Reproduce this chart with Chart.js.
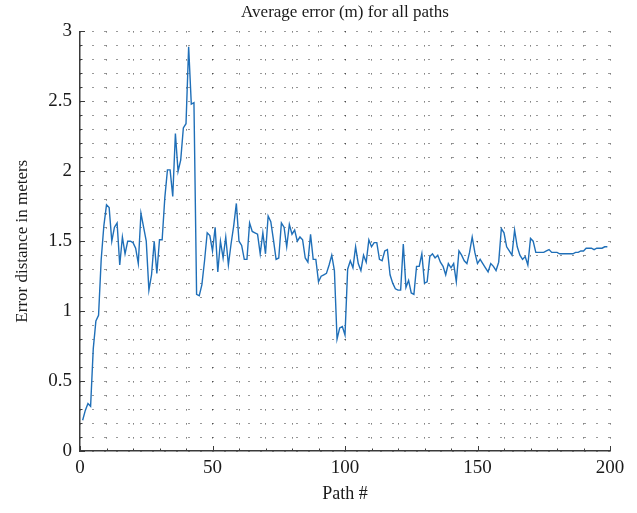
<!DOCTYPE html>
<html lang="en">
<head>
<meta charset="UTF-8">
<title>Average error (m) for all paths</title>
<script src="https://cdn.jsdelivr.net/npm/chart.js"></script>
<style>
  html, body { margin: 0; padding: 0; background: #fff; }
  #wrap { width: 637px; height: 513px; }
</style>
</head>
<body>
<div id="wrap"><canvas id="errChart" width="637" height="513"></canvas></div>
<script>
    // average error per path (m), path 1..199
    const errorMeters = [
        0.22, 0.29, 0.34, 0.32, 0.73, 0.93, 0.97, 1.37, 1.61, 1.76,
        1.74, 1.50, 1.60, 1.63, 1.33, 1.53, 1.41, 1.50, 1.50, 1.49,
        1.45, 1.34, 1.70, 1.60, 1.50, 1.15, 1.26, 1.50, 1.27, 1.51,
        1.51, 1.81, 2.01, 2.01, 1.82, 2.27, 2.00, 2.08, 2.31, 2.34,
        2.89, 2.48, 2.49, 1.12, 1.11, 1.19, 1.36, 1.56, 1.54, 1.43,
        1.60, 1.28, 1.50, 1.38, 1.53, 1.33, 1.48, 1.61, 1.77, 1.50,
        1.47, 1.37, 1.37, 1.63, 1.57, 1.56, 1.55, 1.41, 1.56, 1.41,
        1.68, 1.64, 1.51, 1.37, 1.38, 1.63, 1.60, 1.46, 1.62, 1.55,
        1.58, 1.50, 1.53, 1.51, 1.38, 1.35, 1.55, 1.37, 1.37, 1.21,
        1.25, 1.26, 1.27, 1.33, 1.40, 1.29, 0.80, 0.88, 0.89, 0.83,
        1.30, 1.36, 1.31, 1.46, 1.34, 1.29, 1.40, 1.35, 1.51, 1.46,
        1.49, 1.49, 1.37, 1.36, 1.43, 1.44, 1.26, 1.20, 1.16, 1.15,
        1.15, 1.48, 1.17, 1.22, 1.13, 1.12, 1.32, 1.32, 1.41, 1.20,
        1.21, 1.39, 1.41, 1.38, 1.40, 1.35, 1.32, 1.26, 1.34, 1.31,
        1.34, 1.21, 1.43, 1.40, 1.36, 1.34, 1.42, 1.53, 1.42, 1.34,
        1.37, 1.34, 1.31, 1.28, 1.34, 1.32, 1.29, 1.35, 1.59, 1.56,
        1.46, 1.43, 1.40, 1.58, 1.46, 1.40, 1.37, 1.39, 1.33, 1.52,
        1.50, 1.42, 1.42, 1.42, 1.42, 1.43, 1.44, 1.42, 1.42, 1.42,
        1.41, 1.41, 1.41, 1.41, 1.41, 1.41, 1.42, 1.42, 1.43, 1.43,
        1.45, 1.45, 1.45, 1.44, 1.45, 1.45, 1.45, 1.46, 1.46
    ];
    const pathNumbers = errorMeters.map((_, i) => i + 1);

    const xMajor = [0, 50, 100, 150, 200];
    const yMajor = [0, 0.5, 1, 1.5, 2, 2.5, 3];

    const serif = '"Liberation Serif", "DejaVu Serif", serif';
    const axisColor = '#3a3a3a';

    function isMajor(v, list) {
        return list.some(m => Math.abs(m - v) < 1e-6);
    }

    // ticks pointing into the plot, like the original figure
    const inwardTicks = {
        id: 'inwardTicks',
        afterDraw(chart) {
            const { ctx, chartArea: a, scales: { x, y } } = chart;
            ctx.save();
            ctx.strokeStyle = axisColor;
            ctx.lineWidth = 1;
            ctx.beginPath();
            x.ticks.forEach(t => {
                const px = Math.round(x.getPixelForValue(t.value)) + 0.5;
                const len = isMajor(t.value, xMajor) ? 5 : 2.5;
                ctx.moveTo(px, a.bottom);
                ctx.lineTo(px, a.bottom - len);
            });
            y.ticks.forEach(t => {
                const py = Math.round(y.getPixelForValue(t.value)) + 0.5;
                const len = isMajor(t.value, yMajor) ? 5 : 2.5;
                ctx.moveTo(a.left, py);
                ctx.lineTo(a.left + len, py);
            });
            ctx.stroke();
            ctx.restore();
        }
    };

    const ctx = document.getElementById('errChart').getContext('2d');
    new Chart(ctx, {
        type: 'line',
        data: {
            labels: pathNumbers,
            datasets: [{
                data: errorMeters.map((v, i) => ({ x: pathNumbers[i], y: v })),
                borderColor: '#1f6fb8',
                borderWidth: 1.4,
                pointRadius: 0,
                fill: false,
                tension: 0
            }]
        },
        options: {
            responsive: false,
            animation: false,
            layout: { padding: { left: 0, right: 27, top: 0, bottom: 0 } },
            scales: {
                x: {
                    type: 'linear',
                    min: 0,
                    max: 200,
                    afterFit: s => { s.height = 62; },
                    ticks: {
                        stepSize: 10,
                        autoSkip: false,
                        maxRotation: 0,
                        padding: 6,
                        color: '#1a1a1a',
                        font: { family: serif, size: 19 },
                        callback: v => isMajor(v, xMajor) ? String(v) : ''
                    },
                    grid: {
                        color: 'rgba(0,0,0,0.8)',
                        lineWidth: 1,
                        drawTicks: false
                    },
                    border: { display: true, color: axisColor, width: 1.5, dash: [1, 13] },
                    title: {
                        display: true,
                        text: 'Path #',
                        color: '#1a1a1a',
                        font: { family: serif, size: 18 },
                        padding: { top: 0, bottom: 8 }
                    }
                },
                y: {
                    min: 0,
                    max: 3,
                    afterFit: s => { s.width = 80; },
                    ticks: {
                        stepSize: 0.1,
                        autoSkip: false,
                        padding: 8,
                        color: '#1a1a1a',
                        font: { family: serif, size: 19 },
                        callback: v => isMajor(v, yMajor) ? String(Math.round(v * 10) / 10) : ''
                    },
                    grid: {
                        color: 'rgba(0,0,0,0.8)',
                        lineWidth: 1,
                        drawTicks: false
                    },
                    border: { display: true, color: axisColor, width: 1.5, dash: [1, 11] },
                    title: {
                        display: true,
                        text: 'Error distance in meters',
                        color: '#1a1a1a',
                        font: { family: serif, size: 17 },
                        padding: { top: 12, bottom: 0 }
                    }
                }
            },
            plugins: {
                legend: { display: false },
                tooltip: { enabled: false },
                title: {
                    display: true,
                    fullSize: false,
                    text: 'Average error (m) for all paths',
                    color: '#1a1a1a',
                    font: { family: serif, size: 17, weight: 'normal' },
                    padding: { top: 2, bottom: 9 }
                }
            }
        },
        plugins: [inwardTicks]
    });
</script>
</body>
</html>
